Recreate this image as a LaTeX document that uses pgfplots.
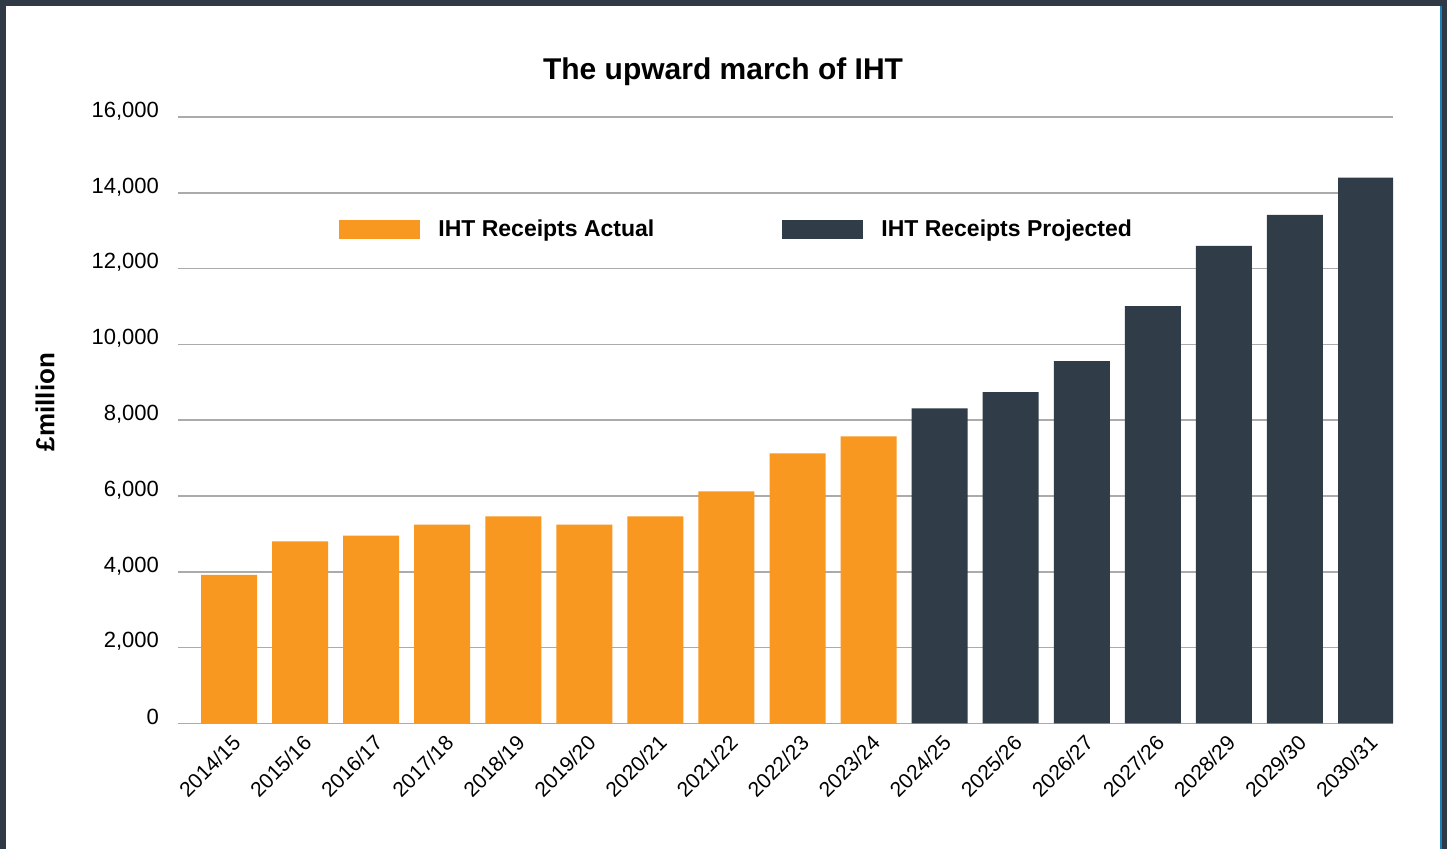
\documentclass[border=0pt]{standalone}
\usepackage{pgfplots}
\pgfplotsset{compat=1.18}
\usepackage{fontspec}
\setmainfont{Liberation Sans}
\definecolor{actual}{HTML}{F89820}
\definecolor{proj}{HTML}{303C47}
\definecolor{frame}{HTML}{2F3A46}
\definecolor{gridc}{HTML}{ABABAB}
\definecolor{blueline}{HTML}{1A80B6}
\begin{document}
\begin{tikzpicture}
\fill[frame] (-89pt,-62.8pt) rectangle (634.5pt,361.7pt);
\fill[white] (-86pt,-62.8pt) rectangle (631.5pt,358.7pt);
\draw[blueline, line width=0.6pt] (631.5pt,-62.8pt) -- (631.5pt,358.7pt);
\begin{axis}[
  at={(0pt,0pt)}, anchor=south west,
  scale only axis, width=607.5pt, height=303.2pt,
  xmin=-0.718, xmax=16.38, ymin=0, ymax=16000,
  axis line style={draw=none},
  major tick length=0pt,
  ymajorgrids, major grid style={gridc, line width=0.75pt},
  ytick={0,2000,...,16000},
  scaled y ticks=false,
  /pgf/number format/1000 sep={,},
  /pgf/number format/assume math mode=true,
  yticklabel style={font=\fontsize{11}{13}\selectfont, anchor=east, xshift=-6pt, yshift=3pt},
  xtick={0,...,16},
  xticklabels={2014/15,2015/16,2016/17,2017/18,2018/19,2019/20,2020/21,2021/22,2022/23,2023/24,2024/25,2025/26,2026/27,2027/26,2028/29,2029/30,2030/31},
  xticklabel style={font=\fontsize{10.5}{12}\selectfont, xshift=1pt, yshift=-5pt, rotate=45, anchor=north east, inner sep=0pt},
  title={The upward march of IHT},
  title style={at={(axis description cs:0.4486,1.0544)}, anchor=center, font=\bfseries\fontsize{15}{18}\selectfont},
  ylabel={£million},
  ylabel style={at={(axis description cs:-0.1095,0.53)}, anchor=center, rotate=0, font=\bfseries\fontsize{13}{15}\selectfont},
  legend columns=2,
  legend style={at={(axis description cs:0.1325,0.8137)}, anchor=west, draw=none, fill=none, inner sep=0pt,
    font=\bfseries\fontsize{11.5}{14}\selectfont,
    /tikz/every odd column/.append style={column sep=7pt},
    /tikz/every even column/.append style={column sep=62pt}},
  legend cell align=left,
]
\addplot[ybar, bar width=0.788, bar shift=0pt, fill=actual, draw=none,
  legend image code/.code={\fill[actual] (0pt,-4.75pt) rectangle (40.5pt,4.75pt);}]
  coordinates {(0,3920) (1,4800) (2,4955) (3,5245) (4,5460) (5,5245) (6,5460) (7,6120) (8,7125) (9,7575)};
\addlegendentry{IHT Receipts Actual}
\addplot[ybar, bar width=0.788, bar shift=0pt, fill=proj, draw=none,
  legend image code/.code={\fill[proj] (0pt,-4.75pt) rectangle (40.5pt,4.75pt);}]
  coordinates {(10,8315) (11,8740) (12,9560) (13,11010) (14,12600) (15,13420) (16,14400)};
\addlegendentry{IHT Receipts Projected}
\end{axis}
\pgfresetboundingbox
\path (-89pt,-62.8pt) rectangle (634.5pt,361.7pt);
\end{tikzpicture}
\end{document}
